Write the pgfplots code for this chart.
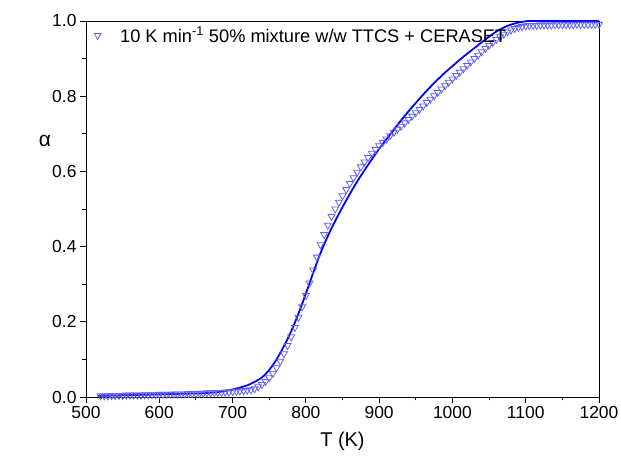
\documentclass[border=0pt]{standalone}
\usepackage{fontspec}
\setmainfont{Liberation Sans}
\usepackage{pgfplots}
\pgfplotsset{compat=1.18}
\definecolor{fitblue}{RGB}{0,0,255}
\definecolor{mkblue}{RGB}{95,95,240}
\begin{document}
\begin{tikzpicture}
\path[use as bounding box] (-86bp,-67bp) rectangle (535bp,397bp);
\begin{axis}[
  scale only axis,
  width=513bp, height=376bp,
  xmin=500, xmax=1200, ymin=0, ymax=1,
  xtick={500,600,...,1200},
  minor xtick={550,650,...,1150},
  ytick={0,0.2,...,1.0},
  minor ytick={0.1,0.3,0.5,0.7,0.9},
  xticklabel style={/pgf/number format/set thousands separator={}},
  yticklabel style={/pgf/number format/fixed,/pgf/number format/fixed zerofill,/pgf/number format/precision=1},
  /pgf/number format/assume math mode=true,
  tick align=outside,
  xtick pos=bottom, ytick pos=left,
  major tick length=6bp, minor tick length=3.5bp,
  tick style={black, line width=0.9pt},
  axis line style={line width=0.9pt},
  ticklabel style={font=\fontsize{17.5}{20}\selectfont},
  xlabel={T (K)},
  xlabel style={font=\fontsize{20}{23}\selectfont, at={(rel axis cs:0.5,-0.118)}, anchor=center},
  ylabel={α},
  ylabel style={font=\fontsize{21}{24}\selectfont, rotate=-90, at={(rel axis cs:-0.08,0.68)}, anchor=center},
  legend style={at={(rel axis cs:0,1)}, anchor=north west, draw=none, fill=none, xshift=6bp,
    font=\fontsize{18.3}{21}\selectfont, inner xsep=2bp, inner ysep=4bp},
  legend cell align=left,
  clip=false,
]
\addplot[only marks, mark=triangle, mark options={rotate=180, draw=mkblue, line width=0.8pt, fill=none}, mark size=4bp] coordinates {
(520,0.003)(525,0.003)(530,0.003)(535,0.004)(540,0.004)(545,0.004)(550,0.004)(555,0.005)(560,0.005)(565,0.005)(570,0.005)(575,0.005)(580,0.006)(585,0.006)(590,0.006)(595,0.006)(600,0.007)
(605,0.007)(610,0.007)(615,0.007)(620,0.008)(625,0.008)(630,0.008)(635,0.008)(640,0.009)(645,0.009)(650,0.009)(655,0.010)(660,0.010)(665,0.011)(670,0.011)(675,0.012)(680,0.012)
(685,0.012)(690,0.013)(695,0.013)(700,0.014)(705,0.015)(710,0.016)(715,0.017)(720,0.018)(725,0.019)(730,0.022)(735,0.027)(740,0.033)(745,0.041)(750,0.051)(755,0.063)(760,0.078)(765,0.095)(770,0.115)(775,0.137)(780,0.160)(785,0.185)(790,0.212)(795,0.240)(800,0.270)
(805,0.303)(810,0.338)(815,0.372)(820,0.405)(825,0.432)(830,0.457)(835,0.480)(840,0.500)(845,0.518)(850,0.535)(855,0.552)(860,0.568)(865,0.583)(870,0.598)(875,0.612)(880,0.625)(885,0.637)(890,0.648)(895,0.658)(900,0.668)
(905,0.677)(910,0.686)(915,0.695)(920,0.704)(925,0.712)(930,0.720)(935,0.729)(940,0.738)(945,0.747)(950,0.756)(955,0.765)(960,0.774)(965,0.783)(970,0.792)(975,0.801)(980,0.810)(985,0.819)(990,0.828)(995,0.837)(1000,0.846)
(1005,0.855)(1010,0.864)(1015,0.873)(1020,0.882)(1025,0.891)(1030,0.900)(1035,0.909)(1040,0.918)(1045,0.927)(1050,0.935)(1055,0.943)(1060,0.951)(1065,0.958)(1070,0.965)(1075,0.971)(1080,0.976)(1085,0.980)(1090,0.983)(1095,0.985)(1100,0.987)
(1105,0.988)(1110,0.988)(1115,0.988)(1120,0.989)(1125,0.989)(1130,0.989)(1135,0.989)(1140,0.990)(1145,0.990)(1150,0.990)(1155,0.990)(1160,0.990)(1165,0.990)(1170,0.991)(1175,0.991)(1180,0.991)(1185,0.991)(1190,0.991)(1195,0.991)(1200,0.991)
};
\addlegendentry{\hspace{17bp}10 K min\textsuperscript{-1} 50\% mixture w/w TTCS + CERASET}
\addplot[forget plot, fitblue, line width=1.8pt, smooth, tension=0.5] coordinates {
(516,0.003)(540,0.004)(560,0.005)(580,0.006)(600,0.007)(620,0.008)(640,0.009)(660,0.010)(680,0.013)(700,0.020)(710,0.025)(720,0.031)(730,0.040)(740,0.052)(750,0.072)(760,0.100)(770,0.135)(780,0.175)(790,0.222)(800,0.275)(810,0.330)(820,0.383)(830,0.428)(840,0.468)(850,0.505)(860,0.540)(870,0.573)(880,0.603)(890,0.632)(900,0.660)(915,0.698)(930,0.736)(945,0.771)(960,0.804)(975,0.835)(990,0.863)(1000,0.880)(1015,0.905)(1030,0.928)(1045,0.951)(1060,0.972)(1075,0.987)(1090,0.996)(1100,0.999)(1110,1.0)(1200,1.0)
};
\end{axis}
\end{tikzpicture}
\end{document}
